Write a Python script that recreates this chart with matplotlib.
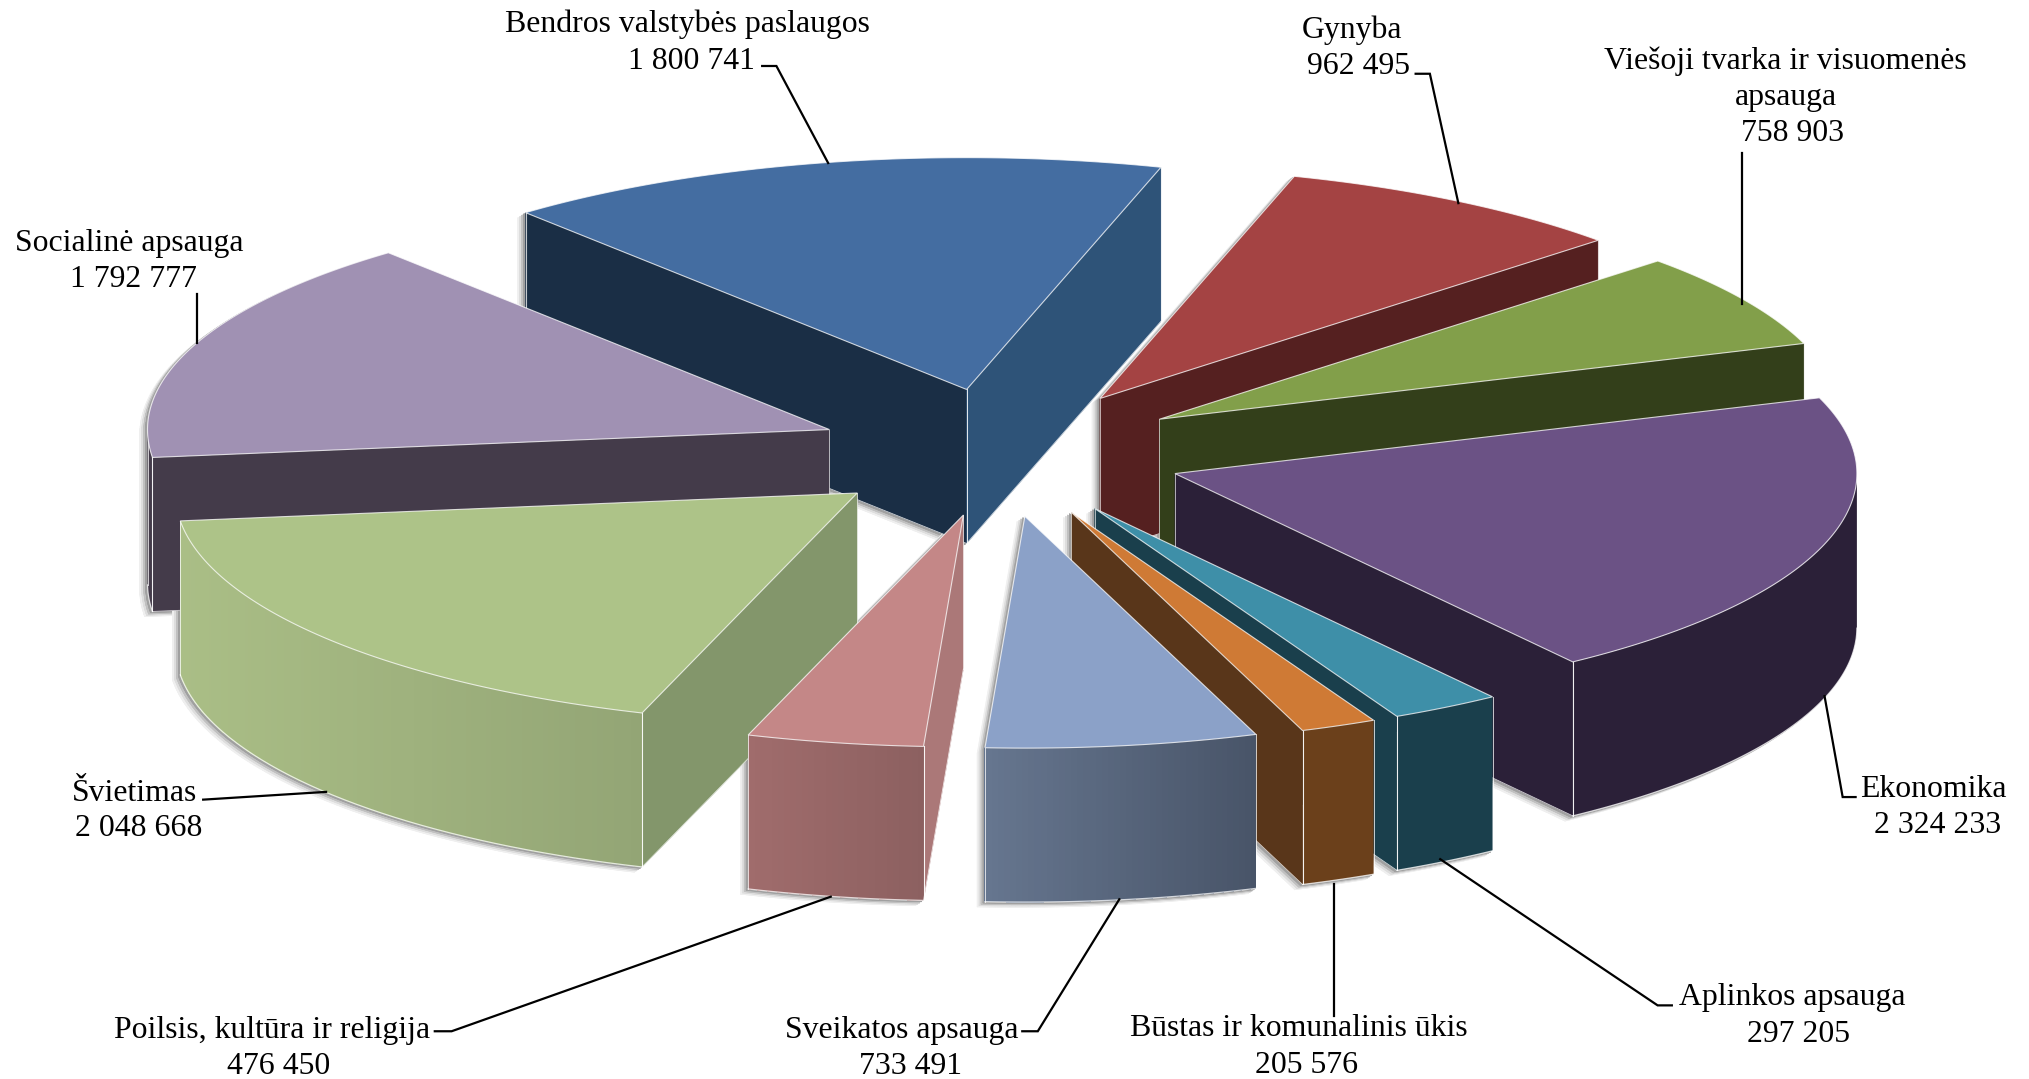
import numpy as np
import matplotlib
matplotlib.use("Agg")
import matplotlib.pyplot as plt
from matplotlib.patches import Polygon

# ---- data ----
LABELS = ["Bendros valstybės paslaugos", "Gynyba", "Viešoji tvarka ir visuomenės\napsauga",
          "Ekonomika", "Aplinkos apsauga", "Būstas ir komunalinis ūkis",
          "Sveikatos apsauga", "Poilsis, kultūra ir religija", "Švietimas", "Socialinė apsauga"]
VALUES = [1800741, 962495, 758903, 2324233, 297205, 205576, 733491, 476450, 2048668, 1792777]
VALUE_TEXT = ["1 800 741", "962 495", "758 903", "2 324 233", "297 205", "205 576",
              "733 491", "476 450", "2 048 668", "1 792 777"]

# ---- styles ----
TOP = ["#446da1", "#a44343", "#829f4a", "#6b5285", "#3e8fa8", "#cf7a35", "#8ba1c8", "#c48787", "#adc388", "#a091b3"]
FACE_START = ["#1a2e45", None, None, None, None, None, None, "#ab7878", "#83966b", "#443b4a"]
FACE_END = ["#2e5378", "#552020", "#333f1a", "#2b2038", "#1a3f4c", "#59361a", None, None, None, None]
WALL_L = ["#2e5378", "#552020", "#333f1a", "#2b2038", "#1a3f4c", "#6b401b", "#66768f", "#a06c6c", "#aabe86", "#443b4a"]
WALL_R = ["#2e5378", "#552020", "#333f1a", "#2b2038", "#1a3f4c", "#6b401b", "#485468", "#8c6060", "#93a575", "#443b4a"]
EXPLODE_DX = [-24, 79, 125, 137, 75, 57, 21, -26.5, -108.5, -130]
EXPLODE_DY = [-50, -43, -27, 15, 42, 45, 48, 47, 30, -19]
DRAW_ORDER = [0, 9, 1, 2, 3, 4, 5, 6, 8, 7]
CX, CY, RX, TILT, DEPTH, START = 771, 351, 527, 0.34, 119, 130.3
W, H = 1568, 833.9

NAME_POS = [(531, 25), (1045, 29), (1380, 53), (1494, 616), (1385, 777),
            (1004, 801), (697, 802), (210, 802), (104, 619), (100, 194)]
VALUE_POS = [(534.5, 53), (1050, 57), (1385, 109), (1497, 644), (1390, 805),
             (1010, 829), (704, 830), (215, 830), (107, 646), (103, 222)]
LINE_PITCH = 28
LEADERS = [[(589, 51), (600, 51), (640, 126)],
           [(1094, 57), (1105, 57), (1127, 157)],
           [(1346, 118), (1346, 235)],
           [(1434, 616), (1424, 616), (1410, 538)],
           [(1292, 777), (1281, 777), (1113, 664)],
           [(1031, 785), (1031, 683)],
           [(790, 797), (802, 797), (865, 695)],
           [(336, 797), (349, 797), (642, 693)],
           [(157, 618), (252, 612)],
           [(152, 227), (152, 265)]]

plt.rcParams["font.family"] = ["Liberation Serif", "DejaVu Serif"]
fig = plt.figure(figsize=(20.29, 10.79), dpi=100)
ax = fig.add_axes([0, 0, 1, 1])
ax.set_xlim(0, W)
ax.set_ylim(H, 0)
ax.axis("off")

vals = np.array(VALUES, float)
sweep = vals / vals.sum() * 360
a1s = START - np.concatenate([[0], np.cumsum(sweep)[:-1]])
a2s = a1s - sweep


def rim(ax0, ay0, deg):
    t = np.radians(deg)
    return ax0 + RX * np.cos(t), ay0 - RX * TILT * np.sin(t)


def mix(c1, c2, f):
    a, b = np.array(matplotlib.colors.to_rgb(c1)), np.array(matplotlib.colors.to_rgb(c2))
    return a + (b - a) * f


def arc(ax0, ay0, a1, a2):
    th = np.linspace(a1, a2, max(int(abs(a1 - a2) * 2), 2))
    x, y = rim(ax0, ay0, th)
    return np.column_stack([x, y])


def shadow(i):
    ax0, ay0 = CX + EXPLODE_DX[i], CY + EXPLODE_DY[i]
    top = np.vstack([[ax0, ay0], arc(ax0, ay0, a1s[i], a2s[i])])
    bot = top + [0, DEPTH]
    n = len(top)
    for off, col in [((-6, 4), "#efefef"), ((-4.5, 3), "#dddddd"), ((-3, 2), "#c0c0c0"), ((-1.5, 1), "#a0a0a0")]:
        for j in range(n):
            k = (j + 1) % n
            quad = np.array([top[j], top[k], bot[k], bot[j]]) + off
            ax.add_patch(Polygon(quad, closed=True, fc=col, ec=col, lw=0.5, zorder=1))
        ax.add_patch(Polygon(bot + off, closed=True, fc=col, ec=col, lw=0.5, zorder=1))


def wedge(i, z):
    ax0, ay0 = CX + EXPLODE_DX[i], CY + EXPLODE_DY[i]
    a1, a2 = a1s[i], a2s[i]
    edge = (1, 1, 1, 0.75)
    # radial faces
    for deg, col in ((a1, FACE_START[i]), (a2, FACE_END[i])):
        if col is None:
            continue
        x, y = rim(ax0, ay0, deg)
        ax.add_patch(Polygon([(ax0, ay0), (x, y), (x, y + DEPTH), (ax0, ay0 + DEPTH)],
                             closed=True, fc=col, ec=col, lw=0.4, zorder=z))
        ax.plot([x, x], [y, y + DEPTH], color=edge, lw=0.8, zorder=z + 0.3)
        ax.plot([ax0, ax0], [ay0, ay0 + DEPTH], color=edge, lw=0.6, zorder=z + 0.3)
        ax.plot([x, ax0], [y + DEPTH, ay0 + DEPTH], color=edge, lw=0.6, zorder=z + 0.3)
    # outer wall: only the part of the rim facing the viewer
    pts = arc(ax0, ay0, a1, a2)
    th = np.linspace(a1, a2, len(pts))
    vis = np.sin(np.radians(th)) <= 0
    if vis.sum() > 1:
        p = pts[vis]
        xmin, xmax = p[:, 0].min(), p[:, 0].max()
        whole = np.vstack([p, (p + [0, DEPTH])[::-1]])
        ax.add_patch(Polygon(whole, closed=True, fc=mix(WALL_L[i], WALL_R[i], 0.5),
                             ec="none", zorder=z + 0.05))
        if WALL_L[i] != WALL_R[i]:
            for j in range(len(p) - 1):
                a, b = p[j], p[j + 1]
                f = (0.5 * (a[0] + b[0]) - xmin) / max(xmax - xmin, 1)
                c = mix(WALL_L[i], WALL_R[i], f)
                ax.add_patch(Polygon([a, b, b + [0, DEPTH], a + [0, DEPTH]], closed=True,
                                     fc=c, ec="none", antialiased=False, zorder=z + 0.1))
        ax.plot(p[:, 0], p[:, 1] + DEPTH, color=edge, lw=0.9, zorder=z + 0.3)
        ax.plot([p[0, 0], p[0, 0]], [p[0, 1], p[0, 1] + DEPTH], color=edge, lw=0.7, zorder=z + 0.3)
        ax.plot([p[-1, 0], p[-1, 0]], [p[-1, 1], p[-1, 1] + DEPTH], color=edge, lw=0.7, zorder=z + 0.3)
    # top face
    top = np.vstack([[ax0, ay0], pts])
    ax.add_patch(Polygon(top, closed=True, fc=TOP[i], ec=edge, lw=0.8, zorder=z + 0.5))


for i in DRAW_ORDER:
    shadow(i)
for n, i in enumerate(DRAW_ORDER):
    wedge(i, 2 + n)

for i in range(len(LABELS)):
    nx, ny = NAME_POS[i]
    for k, line in enumerate(LABELS[i].split("\n")):
        ax.text(nx, ny + k * LINE_PITCH, line, ha="center", va="baseline",
                fontsize=22.9, color="black", zorder=40)
    ax.text(*VALUE_POS[i], VALUE_TEXT[i], ha="center", va="baseline",
            fontsize=22.9, color="black", zorder=40)
    xs, ys = zip(*LEADERS[i])
    ax.plot(xs, ys, color="black", lw=1.6, zorder=30, solid_joinstyle="miter")

fig.savefig("out.png", dpi=100, facecolor="white")
